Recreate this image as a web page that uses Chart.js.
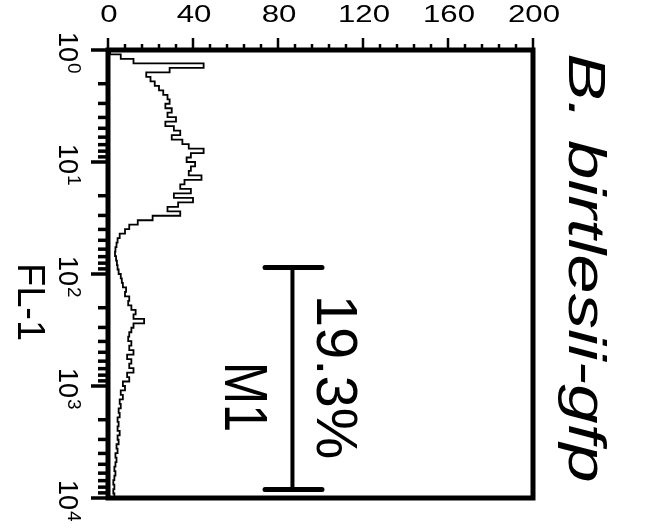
<!DOCTYPE html>
<html>
<head>
<meta charset="utf-8">
<script src="https://cdn.jsdelivr.net/npm/chart.js@4.4.1/dist/chart.umd.min.js"></script>
<style>
  body { margin: 0; background: #fff; }
  canvas { display: block; }
</style>
</head>
<body>
<canvas id="histograma" width="648" height="530"></canvas>
<script>
// FL-1 channel values (log scale) and the event counts
var flValues = [
  1, 1.096, 1.202, 1.318, 1.445, 1.585, 1.738, 1.905, 2.089, 2.291, 2.512, 2.754, 3.020, 3.311, 3.631, 3.981, 4.365, 4.786, 5.248, 5.754, 6.310, 6.918, 7.586, 8.318, 9.120,
  10, 10.96, 12.02, 13.18, 14.45, 15.85, 17.38, 19.05, 20.89, 22.91, 25.12, 27.54, 30.20, 33.11, 36.31, 39.81, 43.65, 47.86, 52.48, 57.54, 63.10, 69.18, 75.86, 83.18, 91.20,
  100, 109.6, 120.2, 131.8, 144.5, 158.5, 173.8, 190.5, 208.9, 229.1, 251.2, 275.4, 302.0, 331.1, 363.1, 398.1, 436.5, 478.6, 524.8, 575.4, 631.0, 691.8, 758.6, 831.8, 912.0,
  1000, 1096, 1202, 1318, 1445, 1585, 1738, 1905, 2089, 2291, 2512, 2754, 3020, 3311, 3631, 3981, 4365, 4786, 5248, 5754, 6310, 6918, 7586, 8318, 9120,
  10000
];
var counts = [
  1, 6, 12, 45, 29, 18, 20, 22, 24, 26, 28, 29, 27, 30, 28, 32, 27, 31, 34, 30, 35, 38, 45, 39, 37,
  41, 39, 38, 44, 36, 34, 39, 31, 40, 33, 28, 34, 21, 14, 10, 8, 5.5, 4.5, 4, 3.5, 3.3, 3.8, 4.2, 4.5, 5,
  6, 6.5, 7, 8.5, 8, 10, 9.5, 11, 13, 12, 17, 12, 11, 10, 9.5, 11, 10, 12, 9, 11, 10, 12, 9, 10, 7,
  8, 6, 7, 5.5, 6, 5, 5.5, 4.5, 5, 4.5, 5.5, 4.5, 5, 4, 4.5, 3.5, 4, 3.5, 3, 3.5, 3, 2.5, 3, 2.5, 3,
  2
];

// axis labels
var countTicks = [0, 40, 80, 120, 160, 200];
var decades = [0, 1, 2, 3, 4];

// M1 gate
var gateCount = 86.8;
var gateRange = [87.5, 8400];
var gateCaps = [73.9, 100.7];
var gateLabel = 'M1';
var gatePercent = '19.3%';

var titulo = 'B. birtlesii-gfp';
var ejeY = 'FL-1';

var FUENTE = '"Liberation Sans", Arial, sans-serif';

/**
 * Arma los puntos del histograma
 */
var obtenerPuntos = function() {
    var puntos = [];
    flValues.forEach(function(v, i) {
        puntos.push({ x: counts[i], y: v });
    });
    return puntos;
};

/**
 * Escribe un texto girado 90 grados (se lee de arriba hacia abajo)
 */
var textoGirado = function(ctx, texto, x, y, font, align, estirar) {
    ctx.save();
    ctx.translate(x, y);
    ctx.rotate(Math.PI / 2);
    ctx.scale(estirar || 1, 1);
    ctx.font = font;
    ctx.textAlign = align;
    ctx.textBaseline = 'alphabetic';
    ctx.fillText(texto, 0, 0);
    ctx.restore();
};

var dibujarEjes = {
    id: 'dibujarEjes',
    afterDraw: function(chart) {
        var ctx = chart.ctx;
        var a = chart.chartArea;
        var sx = chart.scales.x;
        var sy = chart.scales.y;

        ctx.save();
        ctx.strokeStyle = '#000';
        ctx.fillStyle = '#000';
        ctx.lineCap = 'butt';

        // ticks of the count axis (top)
        ctx.lineWidth = 2.5;
        for (var v = 0; v <= 200; v += 8) {
            var px = sx.getPixelForValue(v);
            var largo = (v % 40 === 0) ? 12 : 6;
            ctx.beginPath();
            ctx.moveTo(px, a.top);
            ctx.lineTo(px, a.top - largo);
            ctx.stroke();
        }

        // ticks of the log axis (left)
        ctx.lineWidth = 3.5;
        decades.forEach(function(d) {
            for (var m = 1; m <= 9; m++) {
                if (d === 4 && m > 1) break;
                var py = sy.getPixelForValue(m * Math.pow(10, d));
                var largo = (m === 1) ? 17 : 10;
                ctx.beginPath();
                ctx.moveTo(a.left, py);
                ctx.lineTo(a.left - largo, py);
                ctx.stroke();
            }
        });

        // frame
        ctx.lineWidth = 5;
        ctx.strokeRect(a.left, a.top, a.right - a.left, a.bottom - a.top);

        // count tick labels
        ctx.font = '24px ' + FUENTE;
        ctx.textAlign = 'center';
        ctx.textBaseline = 'alphabetic';
        countTicks.forEach(function(t) {
            ctx.save();
            ctx.translate(sx.getPixelForValue(t) + 1, 22);
            ctx.scale(1.3, 1);
            ctx.fillText(String(t), 0, 0);
            ctx.restore();
        });

        // decade labels 10^n, turned
        decades.forEach(function(d) {
            var py = sy.getPixelForValue(Math.pow(10, d));
            ctx.save();
            ctx.translate(59, py - 18);
            ctx.rotate(Math.PI / 2);
            ctx.textAlign = 'left';
            ctx.font = '27px ' + FUENTE;
            ctx.fillText('10', 0, 0);
            var w = ctx.measureText('10').width;
            ctx.font = '19px ' + FUENTE;
            ctx.fillText(String(d), w + 1, -9);
            ctx.restore();
        });

        textoGirado(ctx, ejeY, 18, 302, '38px ' + FUENTE, 'center');
        textoGirado(ctx, titulo, 569, 268, 'italic 51px ' + FUENTE, 'center', 1.39);

        // M1 gate bar
        var gx = sx.getPixelForValue(gateCount);
        var g1 = sy.getPixelForValue(gateRange[0]);
        var g2 = sy.getPixelForValue(gateRange[1]);
        var c1 = sx.getPixelForValue(gateCaps[0]);
        var c2 = sx.getPixelForValue(gateCaps[1]);
        ctx.lineWidth = 4;
        ctx.beginPath();
        ctx.moveTo(gx, g1);
        ctx.lineTo(gx, g2);
        ctx.stroke();
        ctx.lineWidth = 5;
        ctx.lineCap = 'round';
        ctx.beginPath();
        ctx.moveTo(c1, g1);
        ctx.lineTo(c2, g1);
        ctx.moveTo(c1, g2);
        ctx.lineTo(c2, g2);
        ctx.stroke();

        textoGirado(ctx, gatePercent, 317, 377, '58px ' + FUENTE, 'center');
        textoGirado(ctx, gateLabel, 225, 397, '62px ' + FUENTE, 'center', 0.82);

        ctx.restore();
    }
};

(function() {
    var ctx = document.getElementById('histograma');

    new Chart(ctx, {
        type: 'scatter',
        data: {
            datasets: [{
                label: 'FL-1',
                data: obtenerPuntos(),
                showLine: true,
                stepped: 'after',
                borderColor: '#000',
                borderWidth: 1.8,
                pointRadius: 0,
                fill: false
            }]
        },
        options: {
            responsive: false,
            animation: false,
            layout: { padding: { left: 108, right: 115, top: 50, bottom: 32 } },
            plugins: {
                legend: { display: false },
                tooltip: { enabled: false }
            },
            scales: {
                x: { type: 'linear', position: 'top', min: 0, max: 200, display: false },
                y: { type: 'logarithmic', min: 1, max: 10000, reverse: true, display: false }
            }
        },
        plugins: [dibujarEjes]
    });
})();
</script>
</body>
</html>
